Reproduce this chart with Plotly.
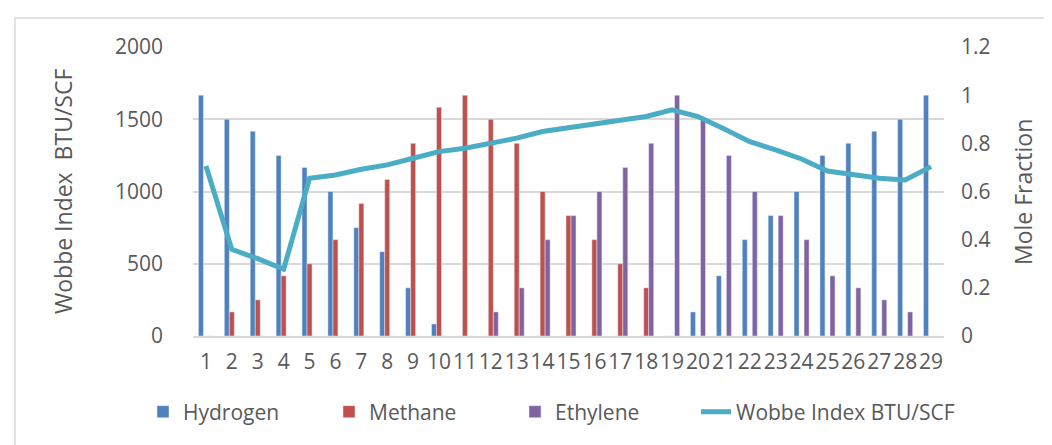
import plotly.graph_objects as go

categories = list(range(1, 30))
hydrogen = [1.0, 0.9, 0.85, 0.75, 0.7, 0.6, 0.45, 0.35, 0.2, 0.05, 0, 0, 0, 0, 0, 0, 0, 0, 0,
            0.1, 0.25, 0.4, 0.5, 0.6, 0.75, 0.8, 0.85, 0.9, 1.0]
methane = [0, 0.1, 0.15, 0.25, 0.3, 0.4, 0.55, 0.65, 0.8, 0.95, 1.0, 0.9, 0.8, 0.6, 0.5, 0.4, 0.3, 0.2,
           0, 0, 0, 0, 0, 0, 0, 0, 0, 0, 0]
ethylene = [0, 0, 0, 0, 0, 0, 0, 0, 0, 0, 0, 0.1, 0.2, 0.4, 0.5, 0.6, 0.7, 0.8, 1.0,
            0.9, 0.75, 0.6, 0.5, 0.4, 0.25, 0.2, 0.15, 0.1, 0]
wobbe = [1177, 599, 535, 462, 1091, 1114, 1154, 1184, 1230, 1276, 1299, 1334, 1369, 1415, 1443,
         1468, 1494, 1519, 1565, 1519, 1434, 1345, 1288, 1225, 1142, 1114, 1091, 1080, 1172]

left_ticks = [0, 500, 1000, 1500, 2000]
right_ticks = [0, 0.2, 0.4, 0.6, 0.8, 1, 1.2]
right_labels = ["0", "0.2", "0.4", "0.6", "0.8", "1", "1.2"]

FONT = "Open Sans"
TXT = "#595959"
GRID = "#D9D9D9"
TICK = 21

fig = go.Figure()
fig.add_trace(go.Bar(x=categories, y=hydrogen, name="Hydrogen", marker_color="#4F81BD", yaxis="y"))
fig.add_trace(go.Bar(x=categories, y=methane, name="Methane", marker_color="#C0504D", yaxis="y"))
fig.add_trace(go.Bar(x=categories, y=ethylene, name="Ethylene", marker_color="#8064A2", yaxis="y"))
fig.add_trace(go.Scatter(x=categories, y=wobbe, name="Wobbe Index BTU/SCF", mode="lines",
                         line=dict(color="#4BACC6", width=5), yaxis="y2", legend="legend2"))

L, R, T, B = 185, 116, 39, 117
W, H = 1052, 445
pw, ph = W - L - R, H - T - B

def px(x):
    return (x - L) / pw

def py(y):
    return (H - B - y) / ph

legfont = dict(size=21, family=FONT, color=TXT)

fig.update_layout(
    width=W, height=H,
    margin=dict(l=L, r=R, t=T, b=B),
    paper_bgcolor="white", plot_bgcolor="white",
    font=dict(family=FONT, color=TXT, size=TICK),
    barmode="group", bargap=0.42, bargroupgap=0,
    showlegend=True,
    legend=dict(orientation="h", x=px(135), y=py(404), xanchor="left", yanchor="middle",
                font=legfont, entrywidth=141, traceorder="normal",
                bgcolor="rgba(0,0,0,0)"),
    legend2=dict(orientation="h", x=px(688), y=py(404), xanchor="left", yanchor="middle",
                 font=legfont, bgcolor="rgba(0,0,0,0)"),
    xaxis=dict(range=[0.5, 29.5], tickmode="array", tickvals=categories,
               ticktext=[str(c) for c in categories], showgrid=False, tickangle=0,
               showline=True, linecolor=GRID, linewidth=1.5, ticks="",
               tickfont=dict(size=TICK, family=FONT, color=TXT), ticklabelstandoff=6,
               zeroline=False),
    yaxis=dict(side="right", range=[0, 1.2], tickmode="array", tickvals=right_ticks,
               ticktext=right_labels, showgrid=False, zeroline=False, showline=False,
               tickfont=dict(size=TICK, family=FONT, color=TXT), ticklabelstandoff=16),
    yaxis2=dict(side="left", overlaying="y", range=[0, 2000], tickmode="array",
                tickvals=left_ticks, showgrid=True, gridcolor=GRID, gridwidth=1.5,
                zeroline=False, showline=False,
                tickfont=dict(size=TICK, family=FONT, color=TXT), ticklabelstandoff=29),
    annotations=[
        dict(text="Wobbe Index\u00a0\u00a0BTU/SCF", xref="paper", yref="paper", x=px(55), y=py(184),
             textangle=-90, showarrow=False, font=dict(size=23, family=FONT, color=TXT),
             xanchor="center", yanchor="middle"),
        dict(text="Mole Fraction", xref="paper", yref="paper", x=px(1015), y=py(184),
             textangle=-90, showarrow=False, font=dict(size=23, family=FONT, color=TXT),
             xanchor="center", yanchor="middle"),
    ],
    shapes=[dict(type="rect", xref="paper", yref="paper", x0=px(7), x1=px(1070),
                 y0=py(460), y1=py(10), line=dict(color=GRID, width=1.5),
                 fillcolor="rgba(0,0,0,0)", layer="below")],
)

fig.write_html("out.html")
